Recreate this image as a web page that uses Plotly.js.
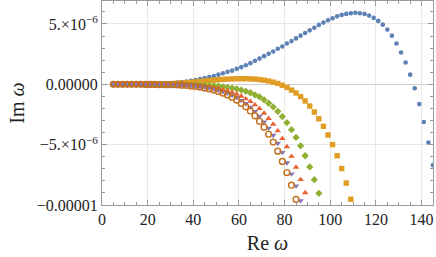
<!DOCTYPE html>
<html>
<head>
<meta charset="utf-8">
<script src="https://cdn.plot.ly/plotly-3.0.1.min.js"></script>
<style>html,body{margin:0;padding:0;background:#fff;}#chart{width:436px;height:257px;}</style>
</head>
<body>
<div id="chart"></div>
<script>
// Values of Im ω are given in units of 1e-6
var xBlue = [5,7,9,11,13,15,17,19,21,23,25,27,29,31,33,35,37,39,41,43,45,47,49,51,53,55,57,59,61,63,65,67,69,71,73,75,77,79,81,83,85,87,89,91,93,95,97,99,101,103,105,107,109,111,113,115,117,119,121,123,125,127,129,131,133,135,137,139,141,143,145];
var yBlue = [0,0,0,0,0.01,0.01,0.01,0.02,0.02,0.03,0.05,0.06,0.08,0.11,0.14,0.18,0.23,0.29,0.36,
  0.44,0.525,0.61,0.69,0.80,0.92,1.03,1.13,1.28,1.42,1.58,1.75,1.94,2.13,2.33,2.53,2.72,2.94,3.13,3.38,3.58,3.80,4.03,4.25,4.47,4.69,4.92,5.11,5.30,5.47,5.63,5.75,5.83,5.88,5.92,5.88,5.83,5.69,5.50,5.25,4.94,4.53,4.03,3.38,2.63,1.80,0.80,-0.33,-1.64,-3.12,-4.83,-6.70];

var xOrange = [5,7,9,11,13,15,17,19,21,23,25,27,29,31,33,35,37,39,41,43,45,47,49,51,53,55,57,59,61,63,65,67,69,71,73,75,77,79,81,83,85,87,89,91,93,95,97,99,101,103,105,107,109];
var yOrange = [0,0,0,0,0,0,0,0.01,0.01,0.01,0.02,0.03,0.04,0.06,0.08,0.10,0.13,0.16,0.20,0.24,0.28,0.32,0.35,0.38,0.41,0.43,0.45,0.46,0.46,0.46,0.45,0.43,0.39,0.34,0.27,0.18,0.07,-0.08,-0.26,-0.48,-0.72,-1.02,-1.38,-1.80,-2.30,-2.86,-3.48,-4.20,-5.00,-5.92,-6.98,-8.18,-9.52];

var xGreen = [5,7,9,11,13,15,17,19,21,23,25,27,29,31,33,35,37,39,41,43,45,47,49,51,53,55,57,59,61,63,65,67,69,71,73,75,77,79,81,83,85,87,89,91,93,95];
var yGreen = [0,0,0,0,0,0,0,0,0,0,0,0,0,0,-0.01,-0.013,-0.018,-0.026,-0.036,-0.05,-0.067,-0.09,-0.12,-0.15,-0.2,-0.25,-0.31,-0.39,-0.48,-0.58,-0.70,-0.87,-1.05,-1.29,-1.57,-1.88,-2.25,-2.67,-3.17,-3.76,-4.40,-5.10,-5.92,-6.85,-7.90,-9.03];

var xRed = [5,7,9,11,13,15,17,19,21,23,25,27,29,31,33,35,37,39,41,43,45,47,49,51,53,55,57,59,61,63,65,67,69,71,73,75,77,79,81,83,85,87,89];
var yRed = [0,0,0,0,0,0,0,0,0,0,0,-0.01,-0.015,-0.02,-0.03,-0.04,-0.054,-0.073,-0.098,-0.13,-0.17,-0.22,-0.28,-0.35,-0.44,-0.54,-0.67,-0.82,-0.99,-1.2,-1.42,-1.70,-2.02,-2.40,-2.83,-3.31,-3.86,-4.50,-5.17,-5.97,-6.87,-7.90,-8.98];

var xPurple = [5,7,9,11,13,15,17,19,21,23,25,27,29,31,33,35,37,39,41,43,45,47,49,51,53,55,57,59,61,63,65,67,69,71,73,75,77,79,81,83,85,87];
var yPurple = [0,0,0,0,0,0,0,0,-0.01,-0.01,-0.015,-0.02,-0.025,-0.035,-0.045,-0.057,-0.079,-0.106,-0.14,-0.185,-0.24,-0.31,-0.39,-0.49,-0.60,-0.74,-0.91,-1.10,-1.33,-1.59,-1.90,-2.25,-2.65,-3.11,-3.63,-4.22,-4.89,-5.64,-6.50,-7.42,-8.42,-9.64];

var xOpen = [5,7,9,11,13,15,17,19,21,23,25,27,29,31,33,35,37,39,41,43,45,47,49,51,53,55,57,59,61,63,65,67,69,71,73,75,77,79,81,83,85];
var yOpen = [0,0,0,0,0,0,0,-0.01,-0.01,-0.01,-0.02,-0.02,-0.03,-0.04,-0.055,-0.076,-0.10,-0.14,-0.18,-0.23,-0.30,-0.38,-0.48,-0.59,-0.73,-0.89,-1.08,-1.31,-1.57,-1.87,-2.21,-2.61,-3.06,-3.55,-4.14,-4.79,-5.54,-6.39,-7.31,-8.36,-9.53];

var xTickVals = [0,20,40,60,80,100,120,140];
var xTickText = ['0','20','40','60','80','100','120','140'];
var yTickVals = [-10,-5,0,5];
var yTickText = ['\u22120.00001','\u22125.\u00d710<sup>\u22126</sup>','0.00000','5.\u00d710<sup>\u22126</sup>'];

var traces = [
  {x:xBlue, y:yBlue, mode:'markers', type:'scatter', marker:{symbol:'circle', size:4.6, color:'#5E81B5'}},
  {x:xOrange, y:yOrange, mode:'markers', type:'scatter', marker:{symbol:'square', size:5.4, color:'#E19C24'}},
  {x:xGreen, y:yGreen, mode:'markers', type:'scatter', marker:{symbol:'diamond', size:5.6, color:'#8FB032'}},
  {x:xRed, y:yRed, mode:'markers', type:'scatter', marker:{symbol:'triangle-up', size:5.8, color:'#EB6235'}},
  {x:xPurple, y:yPurple, mode:'markers', type:'scatter', marker:{symbol:'triangle-down', size:5.8, color:'#8778B3'}},
  {x:xOpen, y:yOpen, mode:'markers', type:'scatter', marker:{symbol:'circle-open', size:5.8, color:'#C56E1A', line:{width:1.4, color:'#C56E1A'}}}
];

var axisCommon = {
  showline:true, mirror:'allticks', linecolor:'#9a9a9a', linewidth:1,
  ticks:'inside', ticklen:5, tickwidth:1, tickcolor:'#9a9a9a',
  showgrid:true, gridcolor:'#e8e8e8', gridwidth:1,
  tickfont:{family:'Liberation Serif, Times New Roman, serif', size:16, color:'#222'},
  zeroline:false, fixedrange:true
};

var layout = {
  width:436, height:257,
  margin:{l:102, r:3, t:1, b:52, pad:0},
  paper_bgcolor:'#fff', plot_bgcolor:'#fff',
  showlegend:false,
  xaxis: Object.assign({}, axisCommon, {
    range:[0,145], tickmode:'array', tickvals:xTickVals, ticktext:xTickText,
    minor:{dtick:5, ticklen:3, tickcolor:'#9a9a9a', ticks:'inside', showgrid:false},
    title:{text:'Re <i>\u03c9</i>', font:{family:'Liberation Serif, Times New Roman, serif', size:20, color:'#222'}, standoff:8}
  }),
  yaxis: Object.assign({}, axisCommon, {
    range:[-10,6.9], tickmode:'array', tickvals:yTickVals, ticktext:yTickText,
    zeroline:true, zerolinecolor:'#cfcfcf', zerolinewidth:1,
    minor:{dtick:1, ticklen:3, tickcolor:'#9a9a9a', ticks:'inside', showgrid:false},
    title:{text:'Im <i>\u03c9</i>', font:{family:'Liberation Serif, Times New Roman, serif', size:20, color:'#222'}, standoff:6}
  })
};

Plotly.newPlot('chart', traces, layout, {displayModeBar:false, staticPlot:true});
</script>
</body>
</html>
